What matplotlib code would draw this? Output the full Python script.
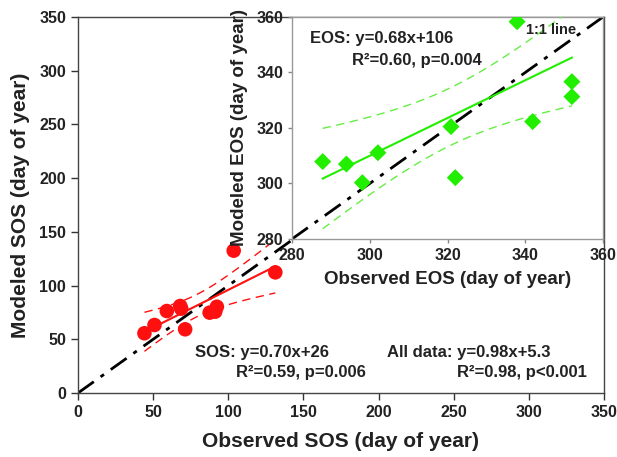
import numpy as np
import matplotlib
matplotlib.use("Agg")
import matplotlib.pyplot as plt

plt.rcParams['font.family'] = ['Liberation Sans', 'DejaVu Sans']
plt.rcParams['font.weight'] = 'bold'

# SOS data (main panel)
sos_obs = [44.2, 50.9, 59.1, 68.0, 68.7, 71.3, 87.6, 91.3, 92.4, 103.6, 131.3]
sos_mod = [55.6, 63.3, 76.3, 81.0, 78.5, 59.3, 74.8, 75.7, 80.3, 132.5, 112.3]
sos_slope, sos_icpt = 0.70, 26.0

# EOS data (inset)
eos_obs = [287.9, 294.0, 298.1, 302.1, 320.9, 322.0, 337.9, 341.9, 352.0, 352.0]
eos_mod = [307.9, 307.0, 300.3, 311.1, 320.5, 302.1, 358.3, 322.3, 336.7, 331.3]
eos_slope, eos_icpt = 0.68, 106.0

main_ticks = [0, 50, 100, 150, 200, 250, 300, 350]
inset_ticks = [280, 300, 320, 340, 360]

RED = '#ff1010'
GREEN = '#22ee00'
LGREEN = '#66ee44'
T975 = 2.262  # approx t quantile used for 95% bands
TXT = '#222222'


def bands(x, y, slope, icpt, t):
    x = np.asarray(x, float)
    y = np.asarray(y, float)
    n = len(x)
    xs = np.linspace(x.min(), x.max(), 60)
    yhat = slope * xs + icpt
    res = y - (slope * x + icpt)
    s = np.sqrt(np.sum(res ** 2) / (n - 2))
    sxx = np.sum((x - x.mean()) ** 2)
    half = t * s * np.sqrt(1.0 / n + (xs - x.mean()) ** 2 / sxx)
    return xs, yhat, yhat - half, yhat + half


fig = plt.figure(figsize=(6.17, 4.57), dpi=100)
ax = fig.add_axes([78 / 617, 1 - 393 / 457, 526 / 617, 376 / 457])

ax.plot([0, 350], [0, 350], color='black', lw=2.0, dashes=(7, 3, 1.5, 3), zorder=2)
xs, yh, lo, hi = bands(sos_obs, sos_mod, sos_slope, sos_icpt, T975)
ax.plot(xs, yh, color=RED, lw=1.5, zorder=3)
ax.plot(xs, lo, color=RED, lw=1.0, dashes=(6, 4), zorder=3)
ax.plot(xs, hi, color=RED, lw=1.0, dashes=(6, 4), zorder=3)
ax.scatter(sos_obs, sos_mod, s=110, color=RED, edgecolors='none', zorder=4)

ax.set_xlim(0, 350)
ax.set_ylim(0, 350)
ax.set_xticks(main_ticks)
ax.set_yticks(main_ticks)
ax.tick_params(direction='out', length=5, width=1, labelsize=11.5, colors='#333333', labelcolor=TXT)
for sp in ax.spines.values():
    sp.set_color('#444444')
    sp.set_linewidth(1.0)
ax.set_xlabel('Observed SOS (day of year)', fontsize=15, fontweight='bold', color=TXT, labelpad=9)
ax.set_ylabel('Modeled SOS (day of year)', fontsize=15, fontweight='bold', color=TXT, labelpad=7)

ax.text(195 / 617, 1 - 352 / 457, 'SOS: y=0.70x+26', transform=fig.transFigure,
        fontsize=12, fontweight='bold', va='center', ha='left', color=TXT)
ax.text(236 / 617, 1 - 373 / 457, 'R\u00b2=0.59, p=0.006', transform=fig.transFigure,
        fontsize=12, fontweight='bold', va='center', ha='left', color=TXT)
ax.text(387 / 617, 1 - 353 / 457, 'All data: y=0.98x+5.3', transform=fig.transFigure,
        fontsize=12, fontweight='bold', va='center', ha='left', color=TXT)
ax.text(457 / 617, 1 - 373 / 457, 'R\u00b2=0.98, p<0.001', transform=fig.transFigure,
        fontsize=12, fontweight='bold', va='center', ha='left', color=TXT)

# inset
ins = fig.add_axes([292 / 617, 1 - 239 / 457, 311 / 617, 222 / 457])
ins.set_facecolor('white')
ins.plot([280, 360], [280, 360], color='black', lw=2.0, dashes=(7, 3, 1.5, 3), zorder=2)
xs, yh, lo, hi = bands(eos_obs, eos_mod, eos_slope, eos_icpt, T975)
ins.plot(xs, yh, color=GREEN, lw=1.5, zorder=3)
ins.plot(xs, lo, color=LGREEN, lw=1.0, dashes=(6, 4), zorder=3)
ins.plot(xs, hi, color=LGREEN, lw=1.0, dashes=(6, 4), zorder=3)
ins.scatter(eos_obs, eos_mod, s=75, marker='D', color=GREEN, edgecolors='none', zorder=4)
ins.set_xlim(280, 360)
ins.set_ylim(280, 360)
ins.set_xticks(inset_ticks)
ins.set_yticks(inset_ticks)
ins.tick_params(direction='out', length=3, width=1, labelsize=11.5, colors='#888888', labelcolor=TXT)
for sp in ins.spines.values():
    sp.set_color('#999999')
    sp.set_linewidth(1.0)
ins.set_xlabel('Observed EOS (day of year)', fontsize=13.5, fontweight='bold', color=TXT, labelpad=6)
ins.set_ylabel('Modeled EOS (day of year)', fontsize=13.5, fontweight='bold', color=TXT, labelpad=6)
ins.text(340.3, 355.3, '1:1 line', fontsize=10.5, fontweight='bold', va='center', ha='left', color=TXT)
ins.text(310 / 617, 1 - 39 / 457, 'EOS: y=0.68x+106', transform=fig.transFigure,
         fontsize=12, fontweight='bold', va='center', ha='left', color=TXT)
ins.text(352 / 617, 1 - 60 / 457, 'R\u00b2=0.60, p=0.004', transform=fig.transFigure,
         fontsize=12, fontweight='bold', va='center', ha='left', color=TXT)

fig.savefig('out.png', dpi=100)
